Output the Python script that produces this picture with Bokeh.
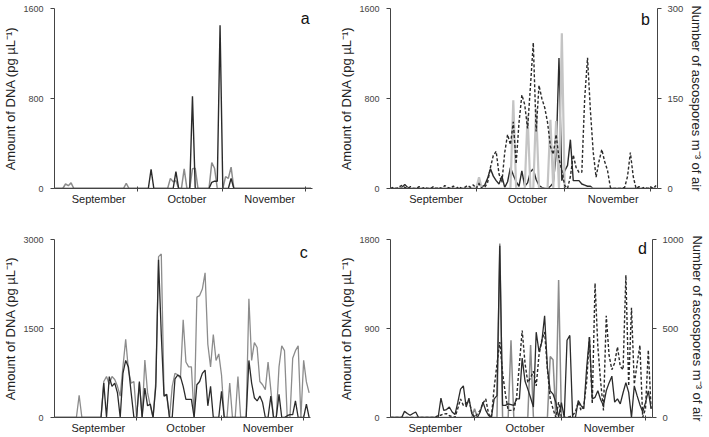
from bokeh.plotting import figure
from bokeh.models import Range1d, LinearAxis, FixedTicker, Label
from bokeh.layouts import column, row
from bokeh.embed import file_html
from bokeh.resources import INLINE

FONT = "Liberation Sans"

# ---------------- data (day index 0 = 1 September) ----------------
days = list(range(94))
month_label_pos = [16, 48, 78]
month_labels = ["September", "October", "November"]
month_bounds = [30, 61, 91]

# panel a : DNA (pg/uL)
a_dark = [0, 0, 0, 0, 0, 0, 0, 0, 0, 0,
          0, 0, 0, 0, 0, 0, 0, 0, 0, 0,
          0, 0, 0, 0, 0, 0, 0, 0, 0, 0,
          0, 0, 0, 0, 0, 170, 0, 0, 0, 0,
          0, 0, 0, 0, 150, 0, 0, 0, 0, 0,
          820, 0, 0, 0, 0, 0, 0, 55, 65, 65,
          1450, 0, 0, 0, 90, 0, 0, 0, 0, 0,
          0, 0, 0, 0, 0, 0, 0, 0, 0, 0,
          0, 0, 0, 0, 0, 0, 0, 0, 0, 0,
          0, 0, 0, 0]
a_light = [0, 0, 0, 0, 40, 25, 50, 0, 0, 0,
           0, 0, 0, 0, 0, 0, 0, 0, 0, 0,
           0, 0, 0, 0, 0, 0, 45, 0, 0, 0,
           0, 0, 0, 0, 0, 0, 0, 0, 0, 0,
           0, 0, 90, 60, 70, 0, 0, 175, 0, 0,
           175, 180, 0, 0, 0, 0, 0, 230, 180, 0,
           0, 0, 105, 90, 190, 0, 0, 0, 0, 0,
           0, 0, 0, 0, 0, 0, 0, 0, 0, 0,
           0, 0, 0, 0, 0, 0, 0, 0, 0, 0,
           0, 0, 0, 0]

# panel b : DNA (left) and ascospores (right)
b_dark = [0, 0, 0, 0, 10, 35, 10, 0, 0, 0,
          0, 0, 0, 0, 0, 0, 0, 0, 0, 0,
          0, 0, 0, 0, 0, 0, 0, 0, 0, 0,
          0, 55, 15, 30, 90, 175, 110, 70, 40, 110,
          10, 60, 186, 120, 60, 20, 157, 20, 50, 150,
          172, 80, 26, 10, 0, 0, 20, 50, 300, 1160,
          70, 157, 205, 434, 70, 70, 70, 40, 30, 20,
          20, 0, 0, 0, 0, 0, 0, 0, 0, 0,
          0, 0, 0, 0, 0, 0, 0, 0, 0, 0,
          0, 0, 0, 0]
b_light = [0, 0, 0, 0, 0, 0, 0, 0, 0, 0,
           0, 0, 0, 0, 0, 0, 0, 0, 0, 0,
           0, 0, 0, 0, 0, 0, 0, 0, 0, 0,
           0, 100, 0, 0, 0, 0, 0, 0, 0, 0,
           0, 0, 0, 784, 0, 0, 0, 0, 650, 0,
           0, 710, 0, 0, 0, 0, 610, 0, 600, 0,
           1380, 0, 0, 0, 0, 0, 0, 0, 0, 0,
           0, 0, 0, 0, 0, 0, 0, 0, 0, 0,
           0, 0, 0, 0, 0, 0, 0, 0, 0, 0,
           0, 0, 0, 0]
b_spores = [0, 2, 0, 3, 5, 2, 0, 3, 0, 0,
            3, 0, 2, 0, 0, 3, 0, 2, 0, 5,
            2, 0, 4, 0, 3, 0, 2, 5, 2, 6,
            0, 8, 0, 2, 10, 35, 55, 62, 24, 10,
            60, 90, 73, 111, 41, 110, 156, 140, 100, 170,
            243, 95, 172, 150, 135, 110, 70, 57, 90, 50,
            30, 5, 0, 20, 56, 35, 27, 27, 150, 218,
            130, 60, 19, 45, 65, 45, 30, 2, 0, 0,
            0, 0, 2, 20, 60, 20, 0, 3, 0, 2,
            0, 3, 0, 5]

# panel c : DNA
c_dark = [0, 0, 0, 0, 0, 0, 0, 0, 0, 0,
          0, 0, 0, 0, 0, 0, 0, 0, 580, 0,
          690, 525, 580, 415, 0, 743, 962, 853, 415, 0,
          0, 607, 0, 497, 197, 225, 0, 525, 2657, 1400,
          360, 389, 0, 0, 650, 716, 690, 525, 306, 306,
          306, 0, 552, 607, 743, 798, 197, 525, 0, 0,
          0, 443, 0, 0, 0, 0, 0, 0, 0, 0,
          0, 962, 580, 333, 279, 361, 251, 0, 0, 361,
          0, 0, 389, 0, 0, 30, 50, 50, 279, 0,
          0, 0, 225, 0]
c_light = [0, 0, 0, 0, 0, 0, 0, 0, 0, 372,
           0, 0, 0, 0, 0, 0, 0, 0, 607, 690,
           560, 690, 640, 525, 360, 853, 1317, 800, 580, 607,
           0, 580, 0, 967, 415, 197, 0, 607, 2711, 2755,
           394, 360, 0, 525, 743, 720, 661, 1645, 935, 853,
           853, 0, 2028, 2055, 2165, 2438, 1235, 853, 1399, 962,
           1071, 716, 0, 0, 580, 0, 0, 690, 0, 0,
           0, 2000, 962, 1263, 1180, 607, 552, 470, 935, 470,
           0, 0, 853, 1208, 1126, 0, 0, 1000, 1126, 1208,
           0, 963, 600, 415]

# panel d : DNA (left) and ascospores (right)
d_dark = [0, 0, 0, 0, 0, 62, 40, 23, 40, 56,
          0, 0, 0, 0, 0, 0, 0, 0, 195, 72,
          80, 106, 56, 30, 150, 287, 320, 106, 195, 40,
          0, 0, 56, 155, 72, 20, 0, 188, 221, 1737,
          122, 122, 138, 130, 122, 188, 188, 600, 369, 287,
          200, 106, 863, 665, 765, 1029, 501, 270, 237, 155,
          0, 150, 0, 781, 830, 0, 0, 171, 120, 89,
          500, 814, 188, 204, 270, 180, 122, 270, 350, 418,
          155, 188, 138, 250, 353, 254, 0, 320, 221, 130,
          56, 150, 270, 89]
d_light = [0, 0, 0, 0, 0, 0, 0, 0, 0, 0,
           0, 0, 0, 0, 0, 0, 0, 0, 0, 0,
           0, 0, 0, 0, 0, 0, 0, 0, 0, 0,
           89, 0, 0, 0, 0, 0, 0, 0, 0, 1760,
           0, 0, 0, 781, 0, 0, 0, 0, 0, 0,
           732, 0, 0, 0, 0, 0, 0, 616, 583, 0,
           1391, 0, 0, 0, 0, 0, 0, 0, 0, 0,
           0, 0, 0, 0, 0, 0, 0, 0, 0, 0,
           0, 0, 0, 0, 0, 0, 0, 0, 0, 0,
           0, 0, 0, 0]
d_spores = [0, 0, 0, 0, 0, 0, 0, 0, 0, 0,
            0, 0, 0, 0, 0, 0, 0, 13, 13, 20,
            22, 10, 5, 0, 50, 104, 68, 80, 95, 30,
            0, 20, 40, 80, 104, 20, 0, 168, 300, 424,
            250, 132, 40, 40, 40, 113, 300, 489, 306, 196,
            223, 260, 177, 351, 434, 480, 269, 104, 49, 0,
            86, 0, 0, 0, 5, 13, 31, 86, 40, 68,
            200, 452, 77, 754, 397, 200, 40, 571, 350, 269,
            306, 397, 287, 269, 800, 177, 617, 187, 300, 406,
            0, 49, 379, 49]

DNA_LABEL = "Amount of DNA (pg \u00b5L\u207b\u00b9)"
SPORE_LABEL = "Number of ascospores m\u207b\u00b3 of air"

AXIS_COL = "#444444"
DARK = "#2b2b2b"
GREY = "#8c8c8c"


def style_axis(ax):
    ax.axis_line_color = AXIS_COL
    ax.axis_line_width = 1
    ax.major_tick_line_color = AXIS_COL
    ax.minor_tick_line_color = AXIS_COL
    ax.major_label_text_font = FONT
    ax.axis_label_text_font = FONT
    ax.axis_label_text_font_style = "normal"
    ax.axis_label_text_color = "#222222"


def make_fig(w, h, ymax, yticks, borders, letter, letter_x, letter_y):
    p = figure(width=w, height=h, x_range=Range1d(0, 93.5), y_range=Range1d(0, ymax),
               output_backend="svg", toolbar_location=None,
               min_border_left=borders[0], min_border_right=borders[1],
               min_border_top=borders[2], min_border_bottom=borders[3])
    p.outline_line_color = None
    p.xgrid.grid_line_color = None
    p.ygrid.grid_line_color = None

    xa = p.xaxis[0]
    xa.ticker = FixedTicker(ticks=month_label_pos, minor_ticks=month_bounds)
    xa.major_label_overrides = {t: s for t, s in zip(month_label_pos, month_labels)}
    xa.major_tick_out = 0
    xa.major_tick_in = 0
    xa.minor_tick_out = 3
    xa.minor_tick_in = 2
    xa.major_label_standoff = 1
    xa.major_label_text_font_size = "11px"
    xa.major_label_text_color = "#222222"
    style_axis(xa)

    ya = p.yaxis[0]
    ya.ticker = FixedTicker(ticks=yticks)
    ya.minor_tick_out = 0
    ya.major_tick_out = 4
    ya.major_tick_in = 0
    ya.major_label_standoff = 7
    ya.major_label_text_font_size = "9px"
    ya.major_label_text_color = "#444444"
    ya.axis_label = DNA_LABEL
    ya.axis_label_text_font_size = "13px"
    ya.axis_label_standoff = 2
    style_axis(ya)

    p.add_layout(Label(x=letter_x, y=letter_y, text=letter, text_font=FONT,
                       text_font_size="16px", text_color="#111111",
                       text_align="right", text_baseline="top"))
    return p


def add_right_axis(p, rmax, rticks):
    p.extra_y_ranges = {"spores": Range1d(0, rmax)}
    ax = LinearAxis(y_range_name="spores", ticker=FixedTicker(ticks=rticks))
    ax.axis_label = SPORE_LABEL
    ax.axis_label_text_font_size = "13px"
    ax.axis_label_standoff = 3
    ax.major_label_text_font_size = "9.5px"
    ax.major_label_text_color = "#444444"
    ax.major_tick_out = 4
    ax.major_tick_in = 0
    ax.minor_tick_out = 0
    ax.major_label_standoff = 6
    style_axis(ax)
    p.add_layout(ax, "right")


# panel a
pa = make_fig(335, 214, 1600, [0, 800, 1600], (46, 23, 8, 24), "a", 92.5, 1590)
pa.line(days, a_light, line_color=GREY, line_width=1.5)
pa.line(days, a_dark, line_color=DARK, line_width=1.4)

# panel b
pb = make_fig(372, 214, 1600, [0, 800, 1600], (55, 46, 5, 26), "b", 90.8, 1580)
add_right_axis(pb, 300, [0, 150, 300])
pb.line(days, b_dark, line_color=DARK, line_width=1.4)
pb.line(days, b_light, line_color="#c4c4c4", line_width=2.2)
pb.line(days, b_spores, y_range_name="spores", line_color=DARK, line_width=1.4, line_dash="3 2")

# panel c
pc = make_fig(335, 222, 3000, [0, 1500, 3000], (46, 25, 25, 14), "c", 92.5, 2930)
pc.line(days, c_light, line_color=GREY, line_width=1.3)
pc.line(days, c_dark, line_color=DARK, line_width=1.3)

# panel d
pd_ = make_fig(372, 222, 1800, [0, 900, 1800], (55, 50, 23, 17), "d", 91.5, 1800)
add_right_axis(pd_, 1000, [0, 500, 1000])
pd_.line(days, d_light, line_color=GREY, line_width=1.5)
pd_.line(days, d_dark, line_color=DARK, line_width=1.3)
pd_.line(days, d_spores, y_range_name="spores", line_color=DARK, line_width=1.4, line_dash="3 2")

layout = column(row(pa, pb), row(pc, pd_))

open("out.html", "w").write(file_html(layout, INLINE))
